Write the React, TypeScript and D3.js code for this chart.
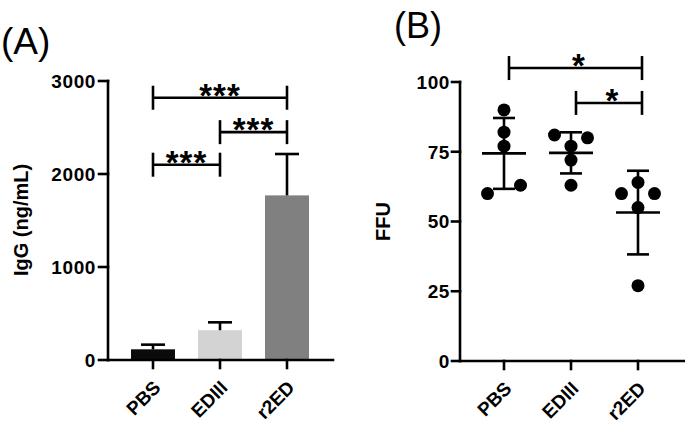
import React from "react";
import * as d3 from "d3";

// ---------- data ----------
const categories = ["PBS", "EDIII", "r2ED"];

// Panel A: IgG (ng/mL), mean and SD (upper error bar only)
const iggMean = [115, 320, 1770];
const iggSD = [50, 85, 445];
const iggTicks = [0, 1000, 2000, 3000];

// Panel A significance brackets: [fromIndex, toIndex, yValue, label]
const sigA: [number, number, number, string][] = [
  [0, 2, 2820, "***"],
  [1, 2, 2450, "***"],
  [0, 1, 2100, "***"],
];

// Panel B: FFU per animal
const ffuPBS = [90, 82, 77, 63, 60];
const ffuEDIII = [81, 80, 77, 72, 63];
const ffuR2ED = [64, 60, 60, 55, 27];
// swarm column of each point (-1 left, 0 centre, 1 right)
const colPBS = [0, 0, 0, 1, -1];
const colEDIII = [-1, 1, 0, 0, 0];
const colR2ED = [0, -1, 1, 0, 0];
const ffuTicks = [0, 25, 50, 75, 100];

const sigB: [number, number, number, string][] = [
  [0, 2, 105, "*"],
  [1, 2, 92.5, "*"],
];

const barColors = ["#0b0b0b", "#d3d3d3", "#808080"];

const FONT = "'Liberation Sans', Arial, Helvetica, sans-serif";
const LW = 2.6;

export default function App() {
  // ---------- Panel A ----------
  const yA = d3.scaleLinear().domain([0, 3000]).range([360, 81]);
  const xA = d3.scalePoint<string>().domain(categories).range([153, 287]);
  const axAx = 108;
  const axAy = 360;
  const barW = 44;

  // ---------- Panel B ----------
  const yB = d3.scaleLinear().domain([0, 100]).range([361, 82]);
  const xB = d3.scalePoint<string>().domain(categories).range([504, 638]);
  const axBx = 460;
  const axBy = 361;
  const groups = [
    { vals: ffuPBS, cols: colPBS },
    { vals: ffuEDIII, cols: colEDIII },
    { vals: ffuR2ED, cols: colR2ED },
  ];

  const tickLabel = (x: number, y: number, txt: string, key: string) => (
    <text
      key={key}
      x={x}
      y={y}
      dy="0.36em"
      textAnchor="end"
      fontSize={19}
      fontWeight="bold"
      fontFamily={FONT}
      fill="#000"
      letterSpacing={0.6}
    >
      {txt}
    </text>
  );
  const catLabel = (x: number, y: number, txt: string, key: string) => (
    <text
      key={key}
      x={x}
      y={y}
      transform={`rotate(-45 ${x} ${y})`}
      dy="0.36em"
      textAnchor="end"
      fontSize={19}
      fontWeight="bold"
      fontFamily={FONT}
      fill="#000"
    >
      {txt}
    </text>
  );

  return (
    <svg
      width={685}
      height={432}
      style={{ position: "absolute", left: 0, top: 0, background: "#fff" }}
    >
      <rect width={685} height={432} fill="#fff" />
      {/* ===== Panel A ===== */}
      <text x={1} y={54} fontSize={37} fontFamily={FONT} fill="#000">
        (A)
      </text>
      {categories.map((c, i) => (
        <rect
          key={"bar" + c}
          x={(xA(c) as number) - barW / 2}
          y={yA(iggMean[i])}
          width={barW}
          height={axAy - yA(iggMean[i])}
          fill={barColors[i]}
        />
      ))}
      {categories.map((c, i) => {
        const cx = xA(c) as number;
        const top = yA(iggMean[i] + iggSD[i]);
        return (
          <g key={"err" + c} stroke="#000" strokeWidth={LW}>
            <line x1={cx} x2={cx} y1={yA(iggMean[i])} y2={top} />
            <line x1={cx - 12} x2={cx + 12} y1={top} y2={top} />
          </g>
        );
      })}
      <g stroke="#000" strokeWidth={LW} strokeLinecap="square">
        <line x1={axAx} x2={axAx} y1={yA(3000)} y2={axAy} />
        <line x1={axAx} x2={333} y1={axAy} y2={axAy} />
        {iggTicks.map((t) => (
          <line key={"ta" + t} x1={axAx - 9} x2={axAx} y1={yA(t)} y2={yA(t)} />
        ))}
        {categories.map((c) => (
          <line key={"xa" + c} x1={xA(c) as number} x2={xA(c) as number} y1={axAy} y2={axAy + 8} />
        ))}
      </g>
      {iggTicks.map((t) => tickLabel(axAx - 12, yA(t), String(t), "la" + t))}
      {categories.map((c) => catLabel((xA(c) as number) + 4, axAy + 24, c, "xla" + c))}
      <text
        transform={`translate(27.5,220) rotate(-90)`}
        textAnchor="middle"
        fontSize={20}
        fontWeight="bold"
        fontFamily={FONT}
      >
        IgG (ng/mL)
      </text>
      {sigA.map(([a, b, v, lab], i) => {
        const x1 = xA(categories[a]) as number;
        const x2 = xA(categories[b]) as number;
        const y = yA(v);
        return (
          <g key={"sa" + i}>
            <g stroke="#000" strokeWidth={LW}>
              <line x1={x1} x2={x2} y1={y} y2={y} />
              <line x1={x1} x2={x1} y1={y - 12} y2={y + 12} />
              <line x1={x2} x2={x2} y1={y - 12} y2={y + 12} />
            </g>
            <text
              x={(x1 + x2) / 2}
              y={y + 9}
              textAnchor="middle"
              fontSize={33}
              fontWeight="bold"
              fontFamily={FONT}
              letterSpacing={1}
            >
              {lab}
            </text>
          </g>
        );
      })}

      {/* ===== Panel B ===== */}
      <text x={394} y={38} fontSize={36} fontFamily={FONT} fill="#000">
        (B)
      </text>
      {groups.map((g, i) => {
        const cx = xB(categories[i]) as number;
        const m = d3.mean(g.vals) as number;
        const s = d3.deviation(g.vals) as number;
        return (
          <g key={"ms" + i} stroke="#000" strokeWidth={LW}>
            <line x1={cx} x2={cx} y1={yB(m + s)} y2={yB(m - s)} />
            <line x1={cx - 11} x2={cx + 11} y1={yB(m + s)} y2={yB(m + s)} />
            <line x1={cx - 11} x2={cx + 11} y1={yB(m - s)} y2={yB(m - s)} />
            <line x1={cx - 22} x2={cx + 22} y1={yB(m)} y2={yB(m)} />
          </g>
        );
      })}
      {groups.map((g, i) => {
        const cx = xB(categories[i]) as number;
        return g.vals.map((v, j) => (
          <circle key={"p" + i + "-" + j} cx={cx + g.cols[j] * 16.5} cy={yB(v)} r={6.5} fill="#000" />
        ));
      })}
      <g stroke="#000" strokeWidth={LW} strokeLinecap="square">
        <line x1={axBx} x2={axBx} y1={yB(100)} y2={axBy} />
        <line x1={axBx} x2={686} y1={axBy} y2={axBy} />
        {ffuTicks.map((t) => (
          <line key={"tb" + t} x1={axBx - 8} x2={axBx} y1={yB(t)} y2={yB(t)} />
        ))}
        {categories.map((c) => (
          <line key={"xb" + c} x1={xB(c) as number} x2={xB(c) as number} y1={axBy} y2={axBy + 8} />
        ))}
      </g>
      {ffuTicks.map((t) => tickLabel(axBx - 10, yB(t), String(t), "lb" + t))}
      {categories.map((c) => catLabel((xB(c) as number) + 4, axBy + 24, c, "xlb" + c))}
      <text
        transform={`translate(390,221.5) rotate(-90)`}
        textAnchor="middle"
        fontSize={20}
        fontWeight="bold"
        fontFamily={FONT}
      >
        FFU
      </text>
      {sigB.map(([a, b, v, lab], i) => {
        const x1 = (xB(categories[a]) as number) + 5;
        const x2 = (xB(categories[b]) as number) + 4;
        const y = yB(v);
        return (
          <g key={"sb" + i}>
            <g stroke="#000" strokeWidth={LW}>
              <line x1={x1} x2={x2} y1={y} y2={y} />
              <line x1={x1} x2={x1} y1={y - 12} y2={y + 12} />
              <line x1={x2} x2={x2} y1={y - 12} y2={y + 12} />
            </g>
            <text x={(x1 + x2) / 2 + 3} y={y + 9} textAnchor="middle" fontSize={33} fontWeight="bold" fontFamily={FONT}>
              {lab}
            </text>
          </g>
        );
      })}
    </svg>
  );
}
